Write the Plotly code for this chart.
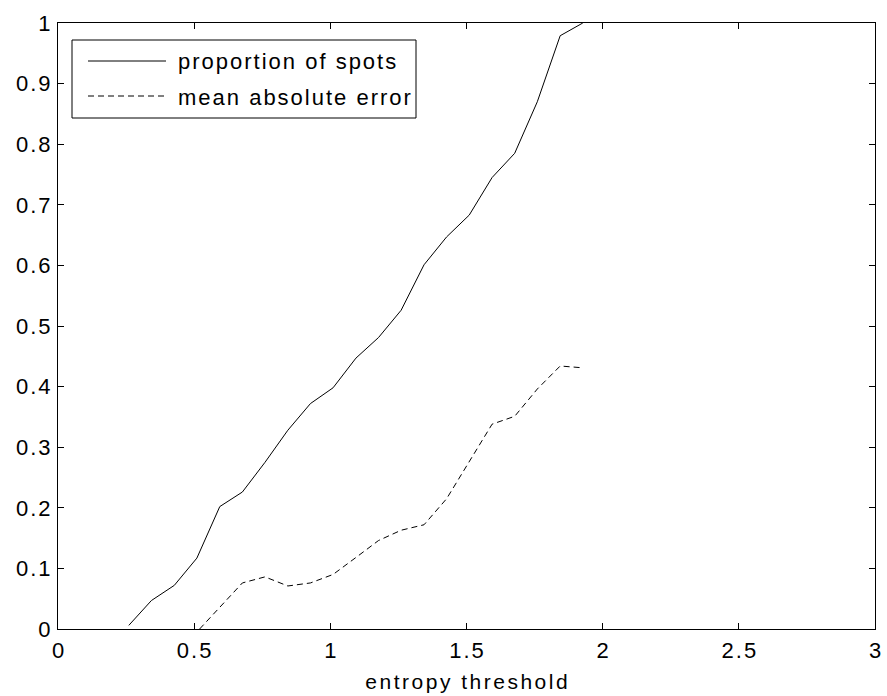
import plotly.graph_objects as go

# entropy threshold grid shared by both curves
threshold = [0.26, 0.343, 0.427, 0.51, 0.594, 0.677, 0.76, 0.844, 0.927, 1.01,
             1.094, 1.177, 1.26, 1.344, 1.427, 1.51, 1.594, 1.677, 1.76, 1.844, 1.927]

proportion_of_spots = [0.006, 0.047, 0.072, 0.117, 0.202, 0.226, 0.275, 0.328, 0.372, 0.398,
                       0.447, 0.481, 0.526, 0.601, 0.647, 0.683, 0.745, 0.785, 0.870, 0.979, 1.0]

mae_threshold = [0.52, 0.594, 0.677, 0.76, 0.844, 0.927, 1.01, 1.094, 1.177, 1.26,
                 1.344, 1.427, 1.51, 1.594, 1.677, 1.76, 1.844, 1.927]
mean_absolute_error = [0.0, 0.036, 0.076, 0.086, 0.071, 0.076, 0.090, 0.118, 0.146, 0.163,
                       0.172, 0.215, 0.275, 0.338, 0.351, 0.396, 0.434, 0.431]

x_ticks = [0, 0.5, 1, 1.5, 2, 2.5, 3]
y_ticks = [0, 0.1, 0.2, 0.3, 0.4, 0.5, 0.6, 0.7, 0.8, 0.9, 1]

series_names = ["proportion of spots", "mean absolute error"]
series_dash = ["solid", "6px,4px"]

FONT = "Liberation Sans, Arial, sans-serif"
W, H = 887, 696
M = dict(l=58, r=12, t=23, b=67)
PW = W - M["l"] - M["r"]
PH = H - M["t"] - M["b"]


def px_to_paper(px, py):
    """Convert page pixel position to paper coordinates."""
    return (px - M["l"]) / PW, (H - M["b"] - py) / PH


fig = go.Figure()
fig.add_trace(go.Scatter(
    x=threshold, y=proportion_of_spots, mode="lines", name=series_names[0],
    line=dict(color="black", width=1, dash=series_dash[0]),
))
fig.add_trace(go.Scatter(
    x=mae_threshold, y=mean_absolute_error, mode="lines", name=series_names[1],
    line=dict(color="black", width=1, dash=series_dash[1]),
))

axis_common = dict(
    showgrid=False, zeroline=False, automargin=False,
    showline=True, linecolor="black", linewidth=1, mirror="ticks",
    ticks="inside", ticklen=6, tickcolor="black", tickwidth=1,
    tickfont=dict(family=FONT, size=22, color="black"),
)

fig.update_xaxes(range=[0, 3], tickvals=x_ticks,
                 ticktext=[f"{v:g}" for v in x_ticks],
                 ticklabelstandoff=2,
                 title=dict(text="entropy threshold",
                            font=dict(family=FONT, size=21, color="black"),
                            standoff=11),
                 **axis_common)
fig.update_yaxes(range=[0, 1], tickvals=y_ticks,
                 ticktext=[f"{v:g}" for v in y_ticks],
                 ticklabelstandoff=2,
                 **axis_common)

# boxed key in the upper-left corner
x0, y0 = px_to_paper(72, 40)
x1, y1 = px_to_paper(416, 118)
shapes = [dict(type="rect", xref="paper", yref="paper", x0=x0, y0=y1, x1=x1, y1=y0,
               line=dict(color="black", width=1), fillcolor="white", layer="above")]
annotations = []
for i, (name, dash) in enumerate(zip(series_names, series_dash)):
    row_y = 61 + 35 * i
    lx0, ly = px_to_paper(88, row_y)
    lx1, _ = px_to_paper(166, row_y)
    shapes.append(dict(type="line", xref="paper", yref="paper", x0=lx0, y0=ly, x1=lx1, y1=ly,
                       line=dict(color="black", width=1, dash=dash), layer="above"))
    tx, ty = px_to_paper(176, row_y + 1)
    annotations.append(dict(text=name, xref="paper", yref="paper", x=tx, y=ty,
                            xanchor="left", yanchor="middle", showarrow=False,
                            font=dict(family=FONT, size=22, color="black")))

fig.update_layout(
    width=W, height=H, margin=M,
    paper_bgcolor="white", plot_bgcolor="white",
    showlegend=False, shapes=shapes, annotations=annotations,
)

# widen the letter spacing of all text while keeping each label's anchor edge in place
letter_spacing = """
var gd = document.getElementById('{plot_id}');
function spread(sel, px, keep) {
  gd.querySelectorAll(sel).forEach(function (el) {
    var b0 = el.getBBox();
    el.style.letterSpacing = px + 'px';
    var b1 = el.getBBox();
    var d;
    if (keep === 'left') {
      d = b0.x - b1.x;
    } else if (keep === 'right') {
      d = (b0.x + b0.width) - (b1.x + b1.width - px);
    } else {
      d = (b0.x + b0.width / 2) - (b1.x + (b1.width - px) / 2);
    }
    el.setAttribute('dx', d);
  });
}
spread('.xtick text', 2, 'middle');
spread('.ytick text', 2, 'right');
spread('.xtitle', 2.5, 'middle');
spread('.annotation-text', 2, 'left');
"""

fig.write_html("out.html", post_script=letter_spacing)
